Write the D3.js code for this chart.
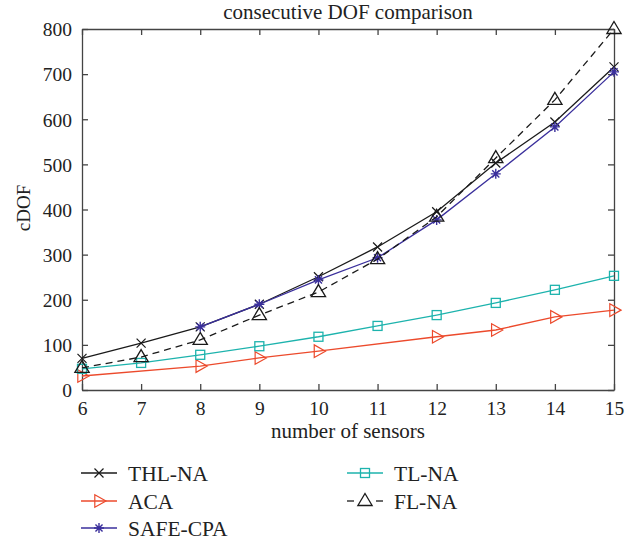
<!DOCTYPE html>
<html>
<head>
<meta charset="utf-8">
<script src="https://cdn.jsdelivr.net/npm/d3@7"></script>
<style>
  body { margin: 0; background: #fff; }
  svg text { font-family: "Liberation Serif", "DejaVu Serif", serif; fill: #222; }
</style>
</head>
<body>
<svg id="chart" width="639" height="540"></svg>
<script>
// data
var sensors = [6, 7, 8, 9, 10, 11, 12, 13, 14, 15];
var thlNA   = [70, 104, 140, 190, 251, 317, 395, 503, 594, 716];
var acaX    = [6, 8, 9, 10, 12, 13, 14, 15];
var aca     = [31, 53, 71, 86, 118, 133, 162, 177];
var safeX   = [8, 9, 10, 11, 12, 13, 14, 15];
var safeCPA = [140, 190, 244, 293, 377, 479, 583, 705];
var tlNA    = [47, 60, 78, 97, 118, 142, 166, 193, 222, 253];
var flNA    = [49, 73, 111, 166, 217, 290, 384, 514, 643, 800];
var yTicks  = [0, 100, 200, 300, 400, 500, 600, 700, 800];

var series = [
    {name: 'THL-NA',   xs: sensors, ys: thlNA,   color: '#1a1a1a', marker: 'x',     dash: null},
    {name: 'ACA',      xs: acaX,    ys: aca,     color: '#ec4a2c', marker: 'right', dash: null},
    {name: 'SAFE-CPA', xs: safeX,   ys: safeCPA, color: '#3a2f9c', marker: 'star',  dash: null},
    {name: 'TL-NA',    xs: sensors, ys: tlNA,    color: '#1db3ad', marker: 'square', dash: null},
    {name: 'FL-NA',    xs: sensors, ys: flNA,    color: '#1a1a1a', marker: 'up',    dash: '7,5'}
];

var FONT = '"Liberation Serif", "DejaVu Serif", serif';
var svg = d3.select('#chart');
var m = {left: 82, right: 614, top: 29, bottom: 390};

var x = d3.scaleLinear().domain([6, 15]).range([m.left, m.right]);
var y = d3.scaleLinear().domain([0, 800]).range([m.bottom, m.top]);

// frame + inward ticks
var axisColor = '#444';
var xB = svg.append('g').attr('transform', 'translate(0,' + m.bottom + ')')
    .call(d3.axisBottom(x).tickValues(sensors).tickSizeInner(-6).tickSizeOuter(0).tickPadding(11));
var xT = svg.append('g').attr('transform', 'translate(0,' + m.top + ')')
    .call(d3.axisTop(x).tickValues(sensors).tickSizeInner(-6).tickSizeOuter(0).tickFormat(''));
var yL = svg.append('g').attr('transform', 'translate(' + m.left + ',0)')
    .call(d3.axisLeft(y).tickValues(yTicks).tickSizeInner(-6).tickSizeOuter(0).tickPadding(10));
var yR = svg.append('g').attr('transform', 'translate(' + m.right + ',0)')
    .call(d3.axisRight(y).tickValues(yTicks).tickSizeInner(-6).tickSizeOuter(0).tickFormat(''));
[xB, xT, yL, yR].forEach(function (g) {
    g.attr('font-family', null).attr('font-size', null);
    g.selectAll('path, line').attr('stroke', axisColor).attr('stroke-width', 1.3);
    g.selectAll('text').style('font-size', '19.5px').style('font-family', FONT).attr('fill', '#222');
});
yL.selectAll('text').attr('dy', '0.35em');

// lines + markers
var line = d3.line().x(function (d) { return x(d[0]); }).y(function (d) { return y(d[1]); });

function drawMarker (g, type, cx, cy, color) {
    if (type === 'x') {
        var s = 4.5;
        g.append('path').attr('d', 'M' + (cx - s) + ',' + (cy - s) + 'L' + (cx + s) + ',' + (cy + s) +
            'M' + (cx - s) + ',' + (cy + s) + 'L' + (cx + s) + ',' + (cy - s))
            .attr('stroke', color).attr('stroke-width', 1.2).attr('fill', 'none');
    } else if (type === 'right') {
        var r = 7;
        g.append('path').attr('d', 'M' + (cx + r) + ',' + cy + 'L' + (cx - r * 0.6) + ',' + (cy - r * 0.9) +
            'L' + (cx - r * 0.6) + ',' + (cy + r * 0.9) + 'Z')
            .attr('stroke', color).attr('stroke-width', 1.2).attr('fill', 'none');
    } else if (type === 'up') {
        var t = 7.5;
        g.append('path').attr('d', 'M' + cx + ',' + (cy - t) + 'L' + (cx + t * 0.95) + ',' + (cy + t * 0.6) +
            'L' + (cx - t * 0.95) + ',' + (cy + t * 0.6) + 'Z')
            .attr('stroke', color).attr('stroke-width', 1.3).attr('fill', 'none');
    } else if (type === 'square') {
        var q = 4.5;
        g.append('rect').attr('x', cx - q).attr('y', cy - q).attr('width', 2 * q).attr('height', 2 * q)
            .attr('stroke', color).attr('stroke-width', 1.3).attr('fill', 'none');
    } else if (type === 'star') {
        var a = 5, p = '';
        for (var i = 0; i < 4; i++) {
            var ang = i * Math.PI / 4;
            p += 'M' + (cx - a * Math.cos(ang)) + ',' + (cy - a * Math.sin(ang)) +
                 'L' + (cx + a * Math.cos(ang)) + ',' + (cy + a * Math.sin(ang));
        }
        g.append('path').attr('d', p).attr('stroke', color).attr('stroke-width', 1.4).attr('fill', 'none');
    }
}

series.forEach(function (s) {
    var pts = s.xs.map(function (v, i) { return [v, s.ys[i]]; });
    var g = svg.append('g');
    g.append('path').datum(pts).attr('d', line)
        .attr('fill', 'none').attr('stroke', s.color).attr('stroke-width', 1.3)
        .attr('stroke-dasharray', s.dash);
    pts.forEach(function (d) { drawMarker(g, s.marker, x(d[0]), y(d[1]), s.color); });
});

// titles
svg.append('text').attr('x', 348).attr('y', 19).attr('text-anchor', 'middle')
    .style('font-size', '21px').style('font-family', FONT).text('consecutive DOF comparison');
svg.append('text').attr('x', 348).attr('y', 438).attr('text-anchor', 'middle')
    .style('font-size', '21px').style('font-family', FONT).text('number of sensors');
svg.append('text').attr('transform', 'translate(30,' + 208 + ') rotate(-90)').attr('text-anchor', 'middle')
    .style('font-size', '19px').style('font-family', FONT).text('cDOF');

// legend
var legendPos = [[81, 473], [81, 501], [81, 528], [347, 473], [347, 501]];
series.forEach(function (s, i) {
    var lx = legendPos[i][0], ly = legendPos[i][1];
    var g = svg.append('g');
    if (s.dash) {
        g.append('line').attr('x1', lx).attr('x2', lx + 7).attr('y1', ly).attr('y2', ly)
            .attr('stroke', s.color).attr('stroke-width', 1.3);
        g.append('line').attr('x1', lx + 29).attr('x2', lx + 36).attr('y1', ly).attr('y2', ly)
            .attr('stroke', s.color).attr('stroke-width', 1.3);
    } else {
        g.append('line').attr('x1', lx).attr('x2', lx + 36).attr('y1', ly).attr('y2', ly)
            .attr('stroke', s.color).attr('stroke-width', 1.3);
    }
    drawMarker(g, s.marker, lx + 18, ly, s.color);
    g.append('text').attr('x', lx + 47).attr('y', ly).attr('dy', '0.35em')
        .style('font-size', '21.5px').style('font-family', FONT).text(s.name);
});
</script>
</body>
</html>
